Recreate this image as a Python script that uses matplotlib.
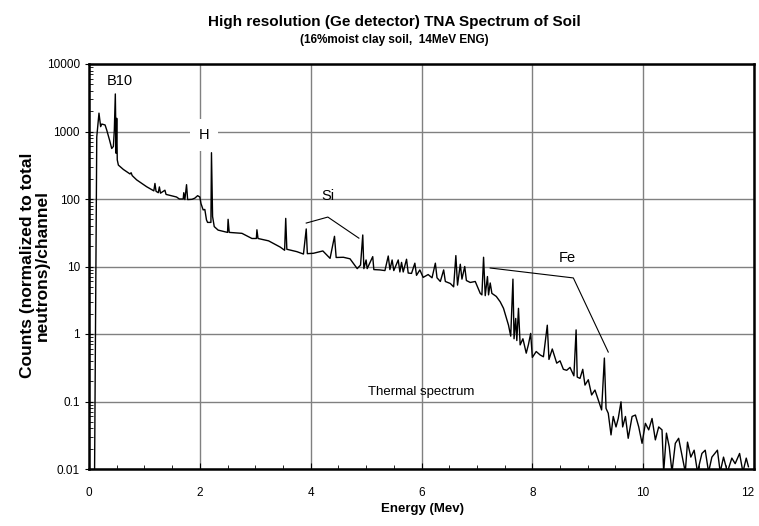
import matplotlib
matplotlib.use("Agg")
import matplotlib.pyplot as plt
from matplotlib.ticker import FixedLocator, MultipleLocator, LogLocator, NullFormatter

plt.rcParams['font.family'] = ['Liberation Sans', 'DejaVu Sans']

energy = [0.10, 0.14, 0.18, 0.21, 0.23, 0.29, 0.32, 0.37, 0.41, 0.44, 0.457, 0.475, 0.49, 0.50, 0.51, 0.53,
          0.62, 0.74, 0.76, 0.78, 0.86, 1.04, 1.17, 1.19, 1.21, 1.25, 1.27, 1.29, 1.37, 1.39, 1.58, 1.63,
          1.70, 1.71, 1.73, 1.76, 1.78, 1.86, 1.91, 1.96, 2.00, 2.02, 2.06, 2.09, 2.12, 2.14, 2.20, 2.21,
          2.23, 2.26, 2.33, 2.43, 2.50, 2.51, 2.53, 2.76, 2.94, 3.02, 3.03, 3.05, 3.24, 3.45, 3.53, 3.55,
          3.57, 3.75, 3.87, 3.92, 3.94, 4.05, 4.22, 4.35, 4.43, 4.46, 4.59, 4.71, 4.84, 4.90, 4.94, 4.96,
          5.00, 5.02, 5.12, 5.14, 5.25, 5.34, 5.40, 5.43, 5.47, 5.50, 5.58, 5.61, 5.64, 5.67, 5.73, 5.76,
          5.82, 5.88, 5.91, 5.97, 6.03, 6.12, 6.19, 6.25, 6.28, 6.34, 6.40, 6.43, 6.52, 6.58, 6.62, 6.65,
          6.70, 6.73, 6.78, 6.81, 6.88, 6.97, 7.06, 7.09, 7.12, 7.15, 7.19, 7.21, 7.24, 7.27, 7.35, 7.42,
          7.48, 7.57, 7.61, 7.65, 7.67, 7.70, 7.72, 7.75, 7.78, 7.83, 7.89, 7.93, 7.97, 8.00, 8.07, 8.14,
          8.20, 8.27, 8.30, 8.36, 8.44, 8.50, 8.56, 8.62, 8.68, 8.75, 8.79, 8.81,
          8.86, 8.91, 8.95, 9.01, 9.07, 9.13, 9.19, 9.25, 9.30, 9.33, 9.37, 9.42, 9.46, 9.51, 9.55, 9.60,
          9.63, 9.68, 9.73, 9.80, 9.86, 9.92, 9.98, 10.04, 10.10, 10.16, 10.22, 10.28, 10.34, 10.37, 10.42,
          10.47, 10.52, 10.58, 10.64, 10.70, 10.76, 10.80, 10.86, 10.92, 10.98, 11.06, 11.12, 11.18, 11.24,
          11.34, 11.39, 11.45, 11.52, 11.60, 11.66, 11.74, 11.80, 11.86, 11.90]

counts = [0.008, 830, 1870, 1180, 1290, 1250, 1050, 750, 560, 600, 1050, 3600, 475, 1570, 380, 318,
          274, 235, 245, 222, 192, 152, 132, 170, 130, 124, 151, 122, 135, 117, 107, 100,
          100, 124, 98, 163, 98, 99, 103, 112, 107, 86, 69, 70, 49, 45, 45, 485,
          55, 39, 34.6, 33, 32, 50, 32, 31, 26, 26, 35, 26, 24, 19.4, 17.4, 51.6,
          18, 16.6, 15.3, 36, 15.5, 15.7, 17, 13.2, 28, 13.6, 13.7, 13.0, 9.3, 10.5, 29.3, 9.3,
          12.5, 9.3, 14, 9.0, 8.9, 8.7, 14.3, 9.0, 12.5, 8.7, 12.5, 8.3, 11.5, 8.3, 12.8, 8.0,
          7.9, 11.2, 7.4, 8.9, 6.9, 7.6, 6.8, 11.2, 6.8, 6.0, 8.9, 6.0, 5.6, 5.0, 14.5, 5.3,
          10.8, 6.5, 10, 6.2, 5.8, 6.0, 4.0, 3.8, 13.7, 3.7, 7.1, 3.8, 5.7, 4.0, 3.6, 3.0,
          2.4, 1.35, 0.93, 6.5, 0.85, 1.7, 0.8, 2.4, 0.69, 0.85, 0.52, 0.7, 1.02, 0.45, 0.55, 0.49,
          0.46, 1.35, 0.42, 0.6, 0.37, 0.4, 0.3, 0.29, 0.32, 0.24, 1.15, 0.23,
          0.22, 0.30, 0.175, 0.21, 0.125, 0.148, 0.105, 0.075, 0.44, 0.079, 0.067, 0.032, 0.06, 0.042, 0.056, 0.099,
          0.042, 0.06, 0.0285, 0.06, 0.063, 0.042, 0.024, 0.0475, 0.038, 0.056, 0.027, 0.042, 0.038, 0.009, 0.034,
          0.0214, 0.009, 0.024, 0.0285, 0.016, 0.009, 0.025, 0.015, 0.019, 0.009, 0.017, 0.019, 0.009, 0.015,
          0.019, 0.009, 0.015, 0.009, 0.0145, 0.012, 0.017, 0.009, 0.0145, 0.0108]

x_ticks = [0, 2, 4, 6, 8, 10, 12]
y_ticks = [0.01, 0.1, 1, 10, 100, 1000, 10000]
y_tick_labels = ["0.01", "0.1", "1", "10", "100", "1000", "10000"]

si_x = [3.92, 4.31, 4.87]
si_y = [44, 54, 26.3]
fe_x = [7.24, 8.74, 9.37]
fe_y = [9.5, 6.77, 0.54]

fig = plt.figure(figsize=(7.59, 5.26), dpi=100)
ax = fig.add_axes([89/759, 1 - 469/526, (754 - 89)/759, (469 - 64)/526])

ax.set_yscale('log')
ax.set_xlim(0, 12)
ax.set_ylim(0.01, 10000)

ax.plot(energy, counts, color='black', lw=1.0, zorder=3)
ax.plot(si_x, si_y, color='black', lw=0.8, zorder=4)
ax.plot(fe_x, fe_y, color='black', lw=0.8, zorder=4)

ax.xaxis.set_major_locator(FixedLocator(x_ticks))
ax.xaxis.set_minor_locator(MultipleLocator(0.5))
ax.set_xticklabels([str(v) for v in x_ticks])
ax.yaxis.set_major_locator(FixedLocator(y_ticks))
ax.set_yticklabels(y_tick_labels)
ax.yaxis.set_minor_locator(LogLocator(base=10, subs=range(2, 10), numticks=20))
ax.yaxis.set_minor_formatter(NullFormatter())

ax.grid(True, which='major', color='#808080', lw=1.0, zorder=0)
ax.tick_params(axis='x', which='major', direction='in', length=4, labelsize=8.5, pad=13)
ax.tick_params(axis='x', which='minor', direction='in', length=3)
ax.tick_params(axis='y', which='major', direction='inout', length=6, labelsize=8.5)
ax.tick_params(axis='y', which='minor', direction='in', length=3)

# keep the last x tick label inside the figure
ax.get_xticklabels()[-1].set_horizontalalignment('right')

for s in ax.spines.values():
    s.set_linewidth(1.8)
    s.set_color('black')

ax.text(0.56, 5600, "B10", fontsize=10.5, ha='center', va='center', zorder=5)
ax.text(2.08, 887, "H", fontsize=10.5, ha='center', va='center', zorder=5,
        bbox=dict(facecolor='white', edgecolor='none', boxstyle='square,pad=0.6'))
ax.text(4.32, 111, "Si", fontsize=10.5, ha='center', va='center', zorder=5)
ax.text(8.63, 13.2, "Fe", fontsize=10.5, ha='center', va='center', zorder=5)
ax.text(6.0, 0.138, "Thermal spectrum", fontsize=9.5, ha='center', va='center', zorder=5)

fig.text(0.519, 0.958, "High resolution (Ge detector) TNA Spectrum of Soil",
         fontsize=11, fontweight='bold', ha='center', va='center')
fig.text(0.519, 0.924, "(16%moist clay soil,  14MeV ENG)",
         fontsize=8.5, fontweight='bold', ha='center', va='center')
fig.text(0.046, 0.496, "Counts (normalized to total\nneutrons)/channel", rotation=90,
         fontsize=12.5, fontweight='bold', ha='center', va='center', linespacing=1.05)
fig.text(0.557, 0.032, "Energy (Mev)", fontsize=9.5, fontweight='bold', ha='center', va='center')

fig.savefig("out.png", dpi=100)
